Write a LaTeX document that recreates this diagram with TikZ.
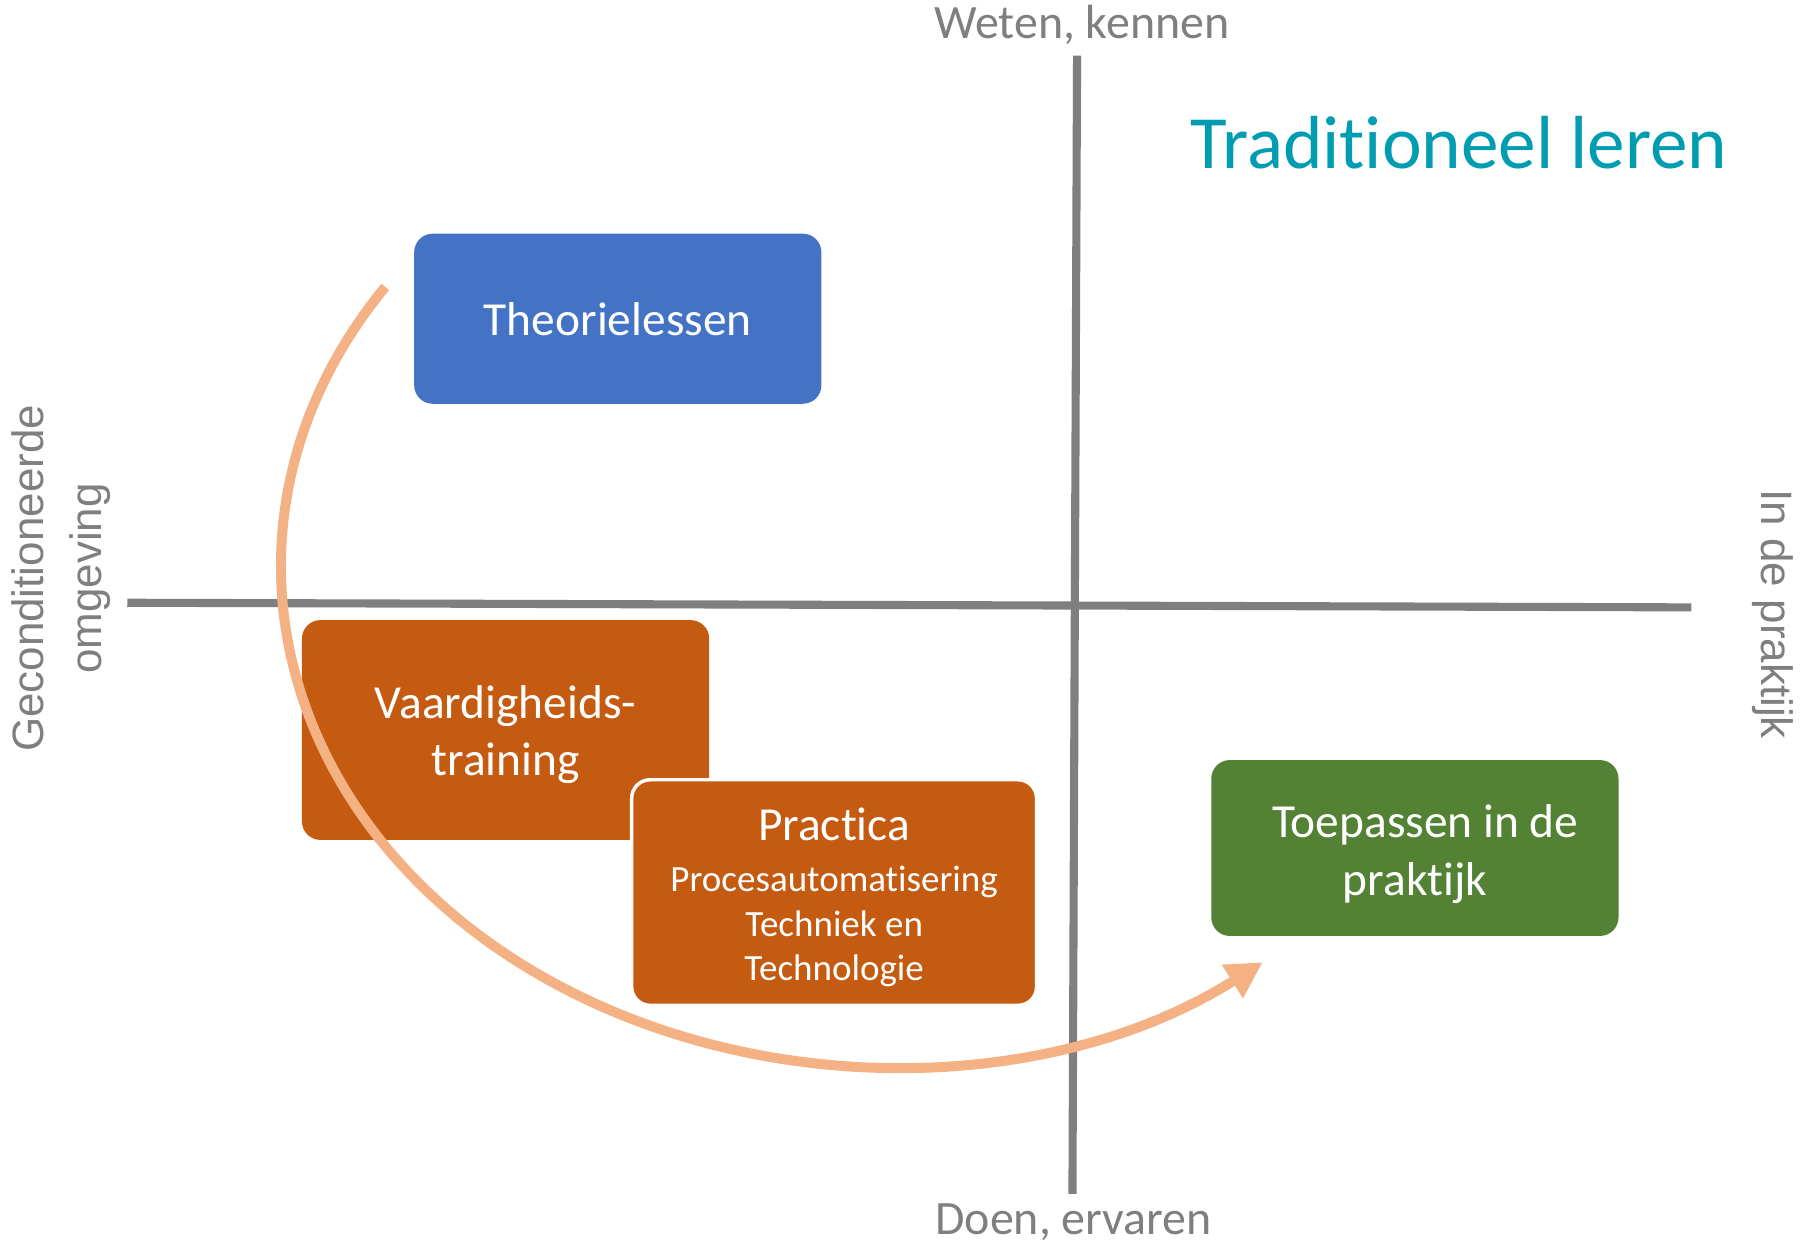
\documentclass[tikz,border=0pt]{standalone}
\usepackage{fontspec}
\setmainfont{Carlito}[Ligatures=NoCommon, RawFeature={-liga;-clig}]
\newfontfamily\arialfont{Liberation Sans}
\usetikzlibrary{arrows.meta}
\definecolor{boxblue}{HTML}{4472C4}
\definecolor{boxorange}{HTML}{C55A11}
\definecolor{boxgreen}{HTML}{548235}
\definecolor{arrowpeach}{HTML}{F4B183}
\definecolor{axisgray}{HTML}{7F7F7F}
\definecolor{titleteal}{RGB}{0,157,178}
\begin{document}
\begin{tikzpicture}[x=0.5pt,y=-0.5pt,
  box/.style={rounded corners=8pt, minimum width=176pt, inner sep=0pt},
  boxtext/.style={text=white, align=center, inner sep=0pt, font=\fontsize{20.5}{25}\selectfont},
  axis/.style={draw=axisgray, line width=3.5pt},
  axlabel/.style={text=axisgray, font=\fontsize{20.7}{24}\selectfont, inner sep=0pt},
  sidelabel/.style={text=axisgray, font=\arialfont\fontsize{19}{25}\selectfont, align=center, inner sep=0pt},
  flow/.style={draw=arrowpeach, line width=4.3pt, -{Triangle[length=15.5pt,width=16pt]}}]
\useasboundingbox (0,0) rectangle (1568,1075);
\fill[white] (0,0) rectangle (1568,1075);
% axes
\coordinate (hL) at (110,521);
\coordinate (hR) at (1462,525);
\coordinate (vT) at (931,48);
\coordinate (vB) at (927,1032);
\draw[axis] (hL) -- (hR);
\draw[axis] (vT) -- (vB);
% axis labels
\node[axlabel, anchor=base] (weten) at (935,33) {Weten, kennen};
\node[axlabel, anchor=base] (doen) at (928,1067) {Doen, ervaren};
\node[sidelabel, rotate=90] (gecond) at (53,500) {Geconditioneerde\\omgeving};
\node[sidelabel, rotate=-90] (praktijk) at (1532,531) {In de praktijk};
% title
\node[text=titleteal, font=\fontsize{32.5}{38}\selectfont, inner sep=0pt, anchor=base] (title) at (1261,146) {Traditioneel leren};
% boxes
\node[box, fill=boxblue, minimum height=73.5pt] (theorie) at (534,275.5) {};
\node[boxtext] (theorietext) at (534,276) {Theorielessen};
\node[box, fill=boxorange, minimum height=95pt] (vaard) at (437,631) {};
\node[boxtext] (vaardtext) at (437,635) {Vaardigheids-\\training};
\node[box, fill=boxorange, draw=white, line width=1.5pt, minimum width=175pt, minimum height=97.5pt] (prac) at (721,771.5) {};
\node[boxtext, font=\fontsize{16}{19.3}\selectfont] (practext) at (721,776)
  {{\fontsize{20.5}{25}\selectfont Practica}\\[2.7pt]Procesautomatisering\\Techniek en\\Technologie};
\node[box, fill=boxgreen, minimum height=76pt] (toep) at (1223,733) {};
\node[boxtext] (toeptext) at (1223,738) {\hspace*{9pt}Toepassen in de\\praktijk};
% flow arrow
\coordinate (arcstart) at (333,248);
\draw[flow] (arcstart) arc[start angle=214, end angle=52.4, x radius=527, y radius=432];
\end{tikzpicture}
\end{document}
